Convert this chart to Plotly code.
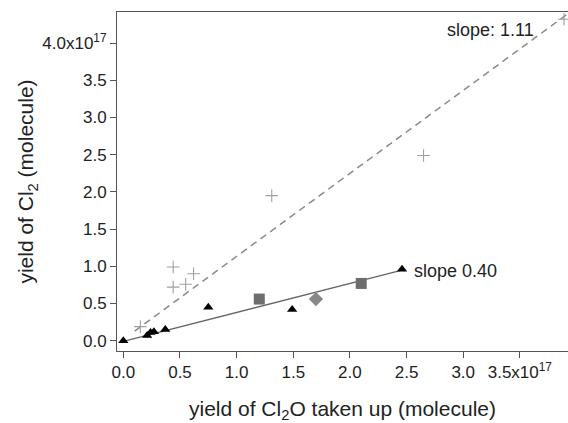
import plotly.graph_objects as go

# data in units of 1e17 molecules
plus_x = [0.15, 0.44, 0.44, 0.55, 0.62, 1.31, 2.65, 3.89]
plus_y = [0.19, 0.99, 0.72, 0.76, 0.90, 1.95, 2.49, 4.32]
tri_x = [0.0, 0.21, 0.24, 0.27, 0.37, 0.75, 1.49, 2.46]
tri_y = [0.0, 0.07, 0.11, 0.12, 0.15, 0.45, 0.42, 0.96]
sq_x = [1.20, 2.10]
sq_y = [0.56, 0.77]
dia_x = [1.70]
dia_y = [0.56]
fit_low_x = [0.0, 2.46]
fit_low_y = [-0.01, 0.95]
fit_high_x = [0.10, 3.92]
fit_high_y = [0.13, 4.39]

xtick_vals = [0, 0.5, 1.0, 1.5, 2.0, 2.5, 3.0, 3.5]
xtick_text = ["0.0", "0.5", "1.0", "1.5", "2.0", "2.5", "3.0", "3.5x10<sup>17</sup>"]
ytick_vals = [0, 0.5, 1.0, 1.5, 2.0, 2.5, 3.0, 3.5, 4.0]
ytick_text = ["0.0", "0.5", "1.0", "1.5", "2.0", "2.5", "3.0", "3.5", "4.0x10<sup>17</sup>"]

FONT = "Liberation Sans, Arial, Helvetica, sans-serif"

fig = go.Figure()
fig.add_trace(go.Scatter(x=fit_high_x, y=fit_high_y, mode="lines",
                         line=dict(color="#8a8a8a", width=1.5, dash="7px,5px"),
                         showlegend=False, hoverinfo="skip"))
fig.add_trace(go.Scatter(x=fit_low_x, y=fit_low_y, mode="lines",
                         line=dict(color="#666666", width=1.3),
                         showlegend=False, hoverinfo="skip"))
fig.add_trace(go.Scatter(x=plus_x, y=plus_y, mode="markers",
                         marker=dict(symbol="cross-thin", size=9,
                                     line=dict(color="#a0a0a0", width=1.1)),
                         showlegend=False))
fig.add_trace(go.Scatter(x=sq_x, y=sq_y, mode="markers",
                         marker=dict(symbol="square", size=11, color="#6e6e6e"),
                         showlegend=False))
fig.add_trace(go.Scatter(x=dia_x, y=dia_y, mode="markers",
                         marker=dict(symbol="diamond", size=11, color="#888888"),
                         showlegend=False))
fig.add_trace(go.Scatter(x=tri_x, y=tri_y, mode="markers",
                         marker=dict(symbol="triangle-up", size=9, color="#000000"),
                         showlegend=False))

fig.add_annotation(x=2.84, y=4.18, text="slope: 1.11", showarrow=False,
                   xanchor="left", yanchor="middle",
                   font=dict(family=FONT, size=18, color="#222222"))
fig.add_annotation(x=2.545, y=0.94, text="slope 0.40", showarrow=False,
                   xanchor="left", yanchor="middle",
                   font=dict(family=FONT, size=18, color="#222222"))

axis_common = dict(showline=True, linecolor="#555555", linewidth=1,
                   ticks="outside", ticklen=6, tickcolor="#555555", tickwidth=1,
                   showgrid=False, zeroline=False,
                   tickfont=dict(family=FONT, size=17, color="#222222"))

fig.update_xaxes(range=[-0.056, 3.925], tickvals=xtick_vals, ticktext=xtick_text,
                 mirror=True,
                 title=dict(text="yield of Cl<sub>2</sub>O taken up (molecule)",
                            font=dict(family=FONT, size=21, color="#222222"),
                            standoff=19),
                 **axis_common)
fig.update_yaxes(range=[-0.138, 4.418], tickvals=ytick_vals, ticktext=ytick_text,
                 title=dict(text="yield of Cl<sub>2</sub> (molecule)",
                            font=dict(family=FONT, size=21, color="#222222"),
                            standoff=2),
                 **axis_common)

fig.update_layout(width=568, height=423,
                  margin=dict(l=117, r=0, t=12, b=72),
                  paper_bgcolor="white", plot_bgcolor="white")

fig.write_html("out.html")
